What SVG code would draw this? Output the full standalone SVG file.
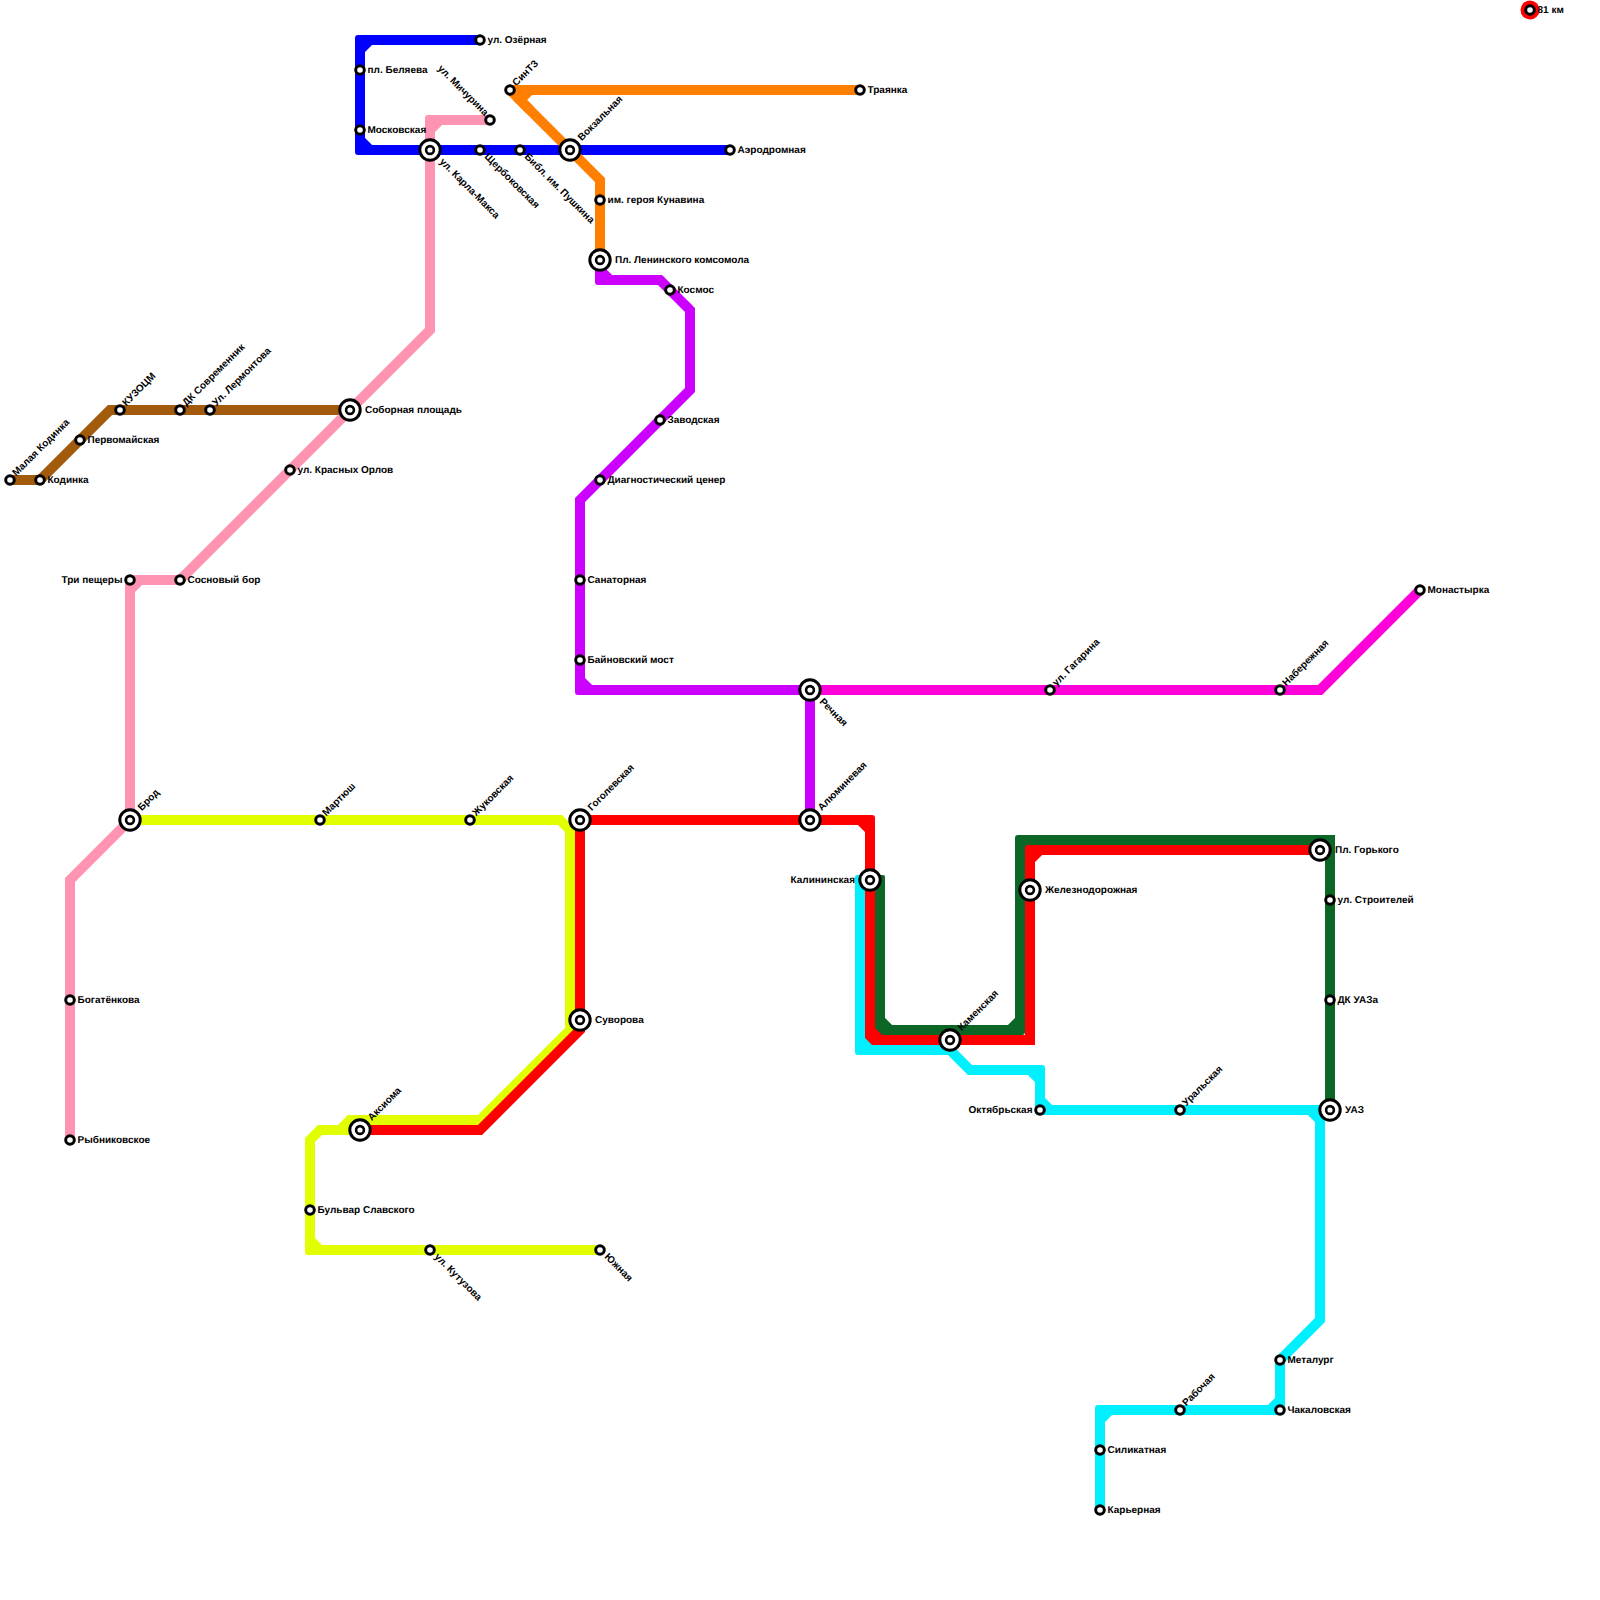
<svg xmlns="http://www.w3.org/2000/svg" width="1600" height="1600" viewBox="0 0 1600 1600">
<style>
.l{fill:none;stroke-width:10;stroke-linejoin:miter;stroke-miterlimit:8}
.blue{stroke:#0000ff}.pink{stroke:#ff94b2}.brown{stroke:#a25a0c}.orange{stroke:#ff7f00}.purple{stroke:#cc00ff}.magenta{stroke:#ff00d9}.yellow{stroke:#e1ff00}.red{stroke:#ff0000}.green{stroke:#0c6625}.cyan{stroke:#00f0ff}
.c-blue{fill:#0000ff}.c-pink{fill:#ff94b2}.c-yellow{fill:#e1ff00}.c-red{fill:#ff0000}.c-green{fill:#0c6625}.c-cyan{fill:#00f0ff}.c-purple{fill:#cc00ff}
text{font-family:"Liberation Sans",Arial,sans-serif;font-weight:bold;font-size:10px;fill:#000;text-rendering:geometricPrecision}
.e{text-anchor:end}
</style>
<defs>
<path id="k" d="M-5 10V-2Q-5 -5 -2 -5H10V5H5V10Z"/>
<circle id="s" r="4.3" fill="#fff" stroke="#000" stroke-width="3"/>
<g id="b"><circle r="10.2" fill="#fff" stroke="#000" stroke-width="3"/><circle r="3.9" fill="#fff" stroke="#000" stroke-width="2.6"/></g>
</defs>
<g id="connectors">
<path class="l brown" d="M10 480H40L110 410H350"/>
<path class="l pink" d="M490 120H440L430 130V330L180 580H140L130 590V820L70 880V1140"/>
<use href="#k" transform="translate(430 120)" class="c-pink"/><use href="#k" transform="translate(130 580)" class="c-pink"/>
<path class="l blue" d="M480 40H370L360 50V140L370 150H730"/>
<use href="#k" transform="translate(360 40)" class="c-blue"/><use href="#k" transform="translate(360 150) rotate(270)" class="c-blue"/>
<path class="l orange" d="M860 90H530L520 100L600 180V260"/>
<path class="l orange" d="M510 90H540M510 90L530 110"/>
<path class="l purple" d="M600 260V270L610 280H660L690 310V390L580 500V680L590 690H810V820"/>
<use href="#k" transform="translate(600 280) rotate(270)" class="c-purple"/><use href="#k" transform="translate(580 690) rotate(270)" class="c-purple"/>
<path class="l magenta" d="M810 690H1320L1420 590"/>
<path class="l yellow" d="M130 820H560L570 830V1030L480 1120H350L340 1130H320L310 1140V1240L320 1250H600"/>
<path class="l yellow" d="M330 1130H360"/>
<use href="#k" transform="translate(310 1250) rotate(270)" class="c-yellow"/>
<path class="l green" d="M880 880V1020L890 1030H1010L1020 1020V850L1030 840H1330V1110"/>
<rect x="875" y="875" width="10" height="10" rx="2" class="c-green"/><use href="#k" transform="translate(880 1030) rotate(270)" class="c-green"/><use href="#k" transform="translate(1020 1030) rotate(180)" class="c-green"/><use href="#k" transform="translate(1020 840)" class="c-green"/><use href="#k" transform="translate(1330 840) rotate(90)" class="c-green"/>
<path class="l red" d="M360 1130H480L580 1030V820H860L870 830V1030L880 1040H1030V860L1040 850H1320"/>
<use href="#k" transform="translate(870 820) rotate(90)" class="c-red"/><use href="#k" transform="translate(870 1040) rotate(270)" class="c-red"/><use href="#k" transform="translate(1030 1040) rotate(180)" class="c-red"/><use href="#k" transform="translate(1030 850)" class="c-red"/>
<path class="l cyan" d="M860 880V1040L870 1050H950L970 1070H1030L1040 1080V1100L1050 1110H1310L1320 1120V1320L1280 1360V1400L1270 1410H1110L1100 1420V1510"/>
<use href="#k" transform="translate(860 1050) rotate(270)" class="c-cyan"/><use href="#k" transform="translate(1040 1070) rotate(90)" class="c-cyan"/><use href="#k" transform="translate(1040 1110) rotate(270)" class="c-cyan"/><use href="#k" transform="translate(1320 1110) rotate(90)" class="c-cyan"/><use href="#k" transform="translate(1280 1410) rotate(180)" class="c-cyan"/><use href="#k" transform="translate(1100 1410)" class="c-cyan"/>
<rect x="855" y="875" width="10" height="10" rx="2" class="c-cyan"/>
</g>
<g id="n01" transform="translate(10 480)"><use href="#s"/><text transform="rotate(-45)" x="7" y="2">Малая Кодинка</text></g>
<g id="n02" transform="translate(40 480)"><use href="#s"/><text x="7.5" y="3">Кодинка</text></g>
<g id="n03" transform="translate(80 440)"><use href="#s"/><text x="7.5" y="3">Первомайская</text></g>
<g id="n04" transform="translate(120 410)"><use href="#s"/><text transform="rotate(-45)" x="7" y="2">КУЗОЦМ</text></g>
<g id="n05" transform="translate(180 410)"><use href="#s"/><text transform="rotate(-45)" x="7" y="2">ДК Современник</text></g>
<g id="n06" transform="translate(210 410)"><use href="#s"/><text transform="rotate(-45)" x="7" y="2">Ул. Лермонтова</text></g>
<g id="n07" transform="translate(350 410)"><use href="#b"/><text x="15" y="3">Соборная площадь</text></g>
<g id="n08" transform="translate(290 470)"><use href="#s"/><text x="7.5" y="3">ул. Красных Орлов</text></g>
<g id="n09" transform="translate(180 580)"><use href="#s"/><text x="7.5" y="3">Сосновый бор</text></g>
<g id="n10" transform="translate(130 580)"><use href="#s"/><text class="e" x="-7.5" y="3">Три пещеры</text></g>
<g id="n11" transform="translate(130 820)"><use href="#b"/><text transform="rotate(-45)" x="14.5" y="2">Брод</text></g>
<g id="n12" transform="translate(70 1000)"><use href="#s"/><text x="7.5" y="3">Богатёнкова</text></g>
<g id="n13" transform="translate(70 1140)"><use href="#s"/><text x="7.5" y="3">Рыбниковское</text></g>
<g id="n14" transform="translate(320 820)"><use href="#s"/><text transform="rotate(-45)" x="7" y="2">Мартюш</text></g>
<g id="n15" transform="translate(470 820)"><use href="#s"/><text transform="rotate(-45)" x="7" y="2">Жуковская</text></g>
<g id="n16" transform="translate(580 820)"><use href="#b"/><text transform="rotate(-45)" x="14.5" y="2">Гоголевская</text></g>
<g id="n17" transform="translate(580 1020)"><use href="#b"/><text x="15" y="3">Суворова</text></g>
<g id="n18" transform="translate(360 1130)"><use href="#b"/><text transform="rotate(-45)" x="14.5" y="2">Аксиома</text></g>
<g id="n19" transform="translate(310 1210)"><use href="#s"/><text x="7.5" y="3">Бульвар Славского</text></g>
<g id="n20" transform="translate(430 1250)"><use href="#s"/><text transform="rotate(45)" x="8" y="2.3">ул. Кутузова</text></g>
<g id="n21" transform="translate(600 1250)"><use href="#s"/><text transform="rotate(45)" x="8" y="2.3">Южная</text></g>
<g id="n22" transform="translate(480 40)"><use href="#s"/><text x="7.5" y="3">ул. Озёрная</text></g>
<g id="n23" transform="translate(360 70)"><use href="#s"/><text x="7.5" y="3">пл. Беляева</text></g>
<g id="n24" transform="translate(360 130)"><use href="#s"/><text x="7.5" y="3">Московская</text></g>
<g id="n25" transform="translate(430 150)"><use href="#b"/><text transform="rotate(45)" x="15" y="2.3">ул. Карла-Макса</text></g>
<g id="n26" transform="translate(490 120)"><use href="#s"/><text class="e" transform="rotate(45)" x="-6.5" y="1.3">ул. Мичурина</text></g>
<g id="n27" transform="translate(480 150)"><use href="#s"/><text transform="rotate(45)" x="8" y="2.3">Щербоковская</text></g>
<g id="n28" transform="translate(520 150)"><use href="#s"/><text transform="rotate(45)" x="8" y="2.3">Библ. им. Пушкина</text></g>
<g id="n29" transform="translate(570 150)"><use href="#b"/><text transform="rotate(-45)" x="14.5" y="2">Вокзальная</text></g>
<g id="n30" transform="translate(730 150)"><use href="#s"/><text x="7.5" y="3">Аэродромная</text></g>
<g id="n31" transform="translate(510 90)"><use href="#s"/><text transform="rotate(-45)" x="7" y="2">СинТЗ</text></g>
<g id="n32" transform="translate(860 90)"><use href="#s"/><text x="7.5" y="3">Траянка</text></g>
<g id="n33" transform="translate(600 200)"><use href="#s"/><text x="7.5" y="3">им. героя Кунавина</text></g>
<g id="n34" transform="translate(600 260)"><use href="#b"/><text x="15" y="3">Пл. Ленинского комсомола</text></g>
<g id="n35" transform="translate(670 290)"><use href="#s"/><text x="7.5" y="3">Космос</text></g>
<g id="n36" transform="translate(660 420)"><use href="#s"/><text x="7.5" y="3">Заводская</text></g>
<g id="n37" transform="translate(600 480)"><use href="#s"/><text x="7.5" y="3">Диагностический ценер</text></g>
<g id="n38" transform="translate(580 580)"><use href="#s"/><text x="7.5" y="3">Санаторная</text></g>
<g id="n39" transform="translate(580 660)"><use href="#s"/><text x="7.5" y="3">Байновский мост</text></g>
<g id="n40" transform="translate(810 690)"><use href="#b"/><text transform="rotate(45)" x="15" y="2.3">Речная</text></g>
<g id="n41" transform="translate(810 820)"><use href="#b"/><text transform="rotate(-45)" x="14.5" y="2">Алюминевая</text></g>
<g id="n42" transform="translate(1050 690)"><use href="#s"/><text transform="rotate(-45)" x="7" y="2">ул. Гагарина</text></g>
<g id="n43" transform="translate(1280 690)"><use href="#s"/><text transform="rotate(-45)" x="7" y="2">Набережная</text></g>
<g id="n44" transform="translate(1420 590)"><use href="#s"/><text x="7.5" y="3">Монастырка</text></g>
<g id="n45" transform="translate(870 880)"><use href="#b"/><text class="e" x="-15" y="3">Калининская</text></g>
<g id="n46" transform="translate(950 1040)"><use href="#b"/><text transform="rotate(-45)" x="14.5" y="2">Каменская</text></g>
<g id="n47" transform="translate(1030 890)"><use href="#b"/><text x="15" y="3">Железнодорожная</text></g>
<g id="n48" transform="translate(1320 850)"><use href="#b"/><text x="15" y="3">Пл. Горького</text></g>
<g id="n49" transform="translate(1330 900)"><use href="#s"/><text x="7.5" y="3">ул. Строителей</text></g>
<g id="n50" transform="translate(1330 1000)"><use href="#s"/><text x="7.5" y="3">ДК УАЗа</text></g>
<g id="n51" transform="translate(1330 1110)"><use href="#b"/><text x="15" y="3">УАЗ</text></g>
<g id="n52" transform="translate(1040 1110)"><use href="#s"/><text class="e" x="-7.5" y="3">Октябрьская</text></g>
<g id="n53" transform="translate(1180 1110)"><use href="#s"/><text transform="rotate(-45)" x="7" y="2">Уральская</text></g>
<g id="n54" transform="translate(1180 1410)"><use href="#s"/><text transform="rotate(-45)" x="7" y="2">Рабочая</text></g>
<g id="n55" transform="translate(1280 1360)"><use href="#s"/><text x="7.5" y="3">Металург</text></g>
<g id="n56" transform="translate(1280 1410)"><use href="#s"/><text x="7.5" y="3">Чакаловская</text></g>
<g id="n57" transform="translate(1100 1450)"><use href="#s"/><text x="7.5" y="3">Силикатная</text></g>
<g id="n58" transform="translate(1100 1510)"><use href="#s"/><text x="7.5" y="3">Карьерная</text></g>
<g id="n59" transform="translate(1530 10)"><circle r="9.5" fill="#ff0000"/><use href="#s"/><text x="7.5" y="3">81 км</text></g>
</svg>
